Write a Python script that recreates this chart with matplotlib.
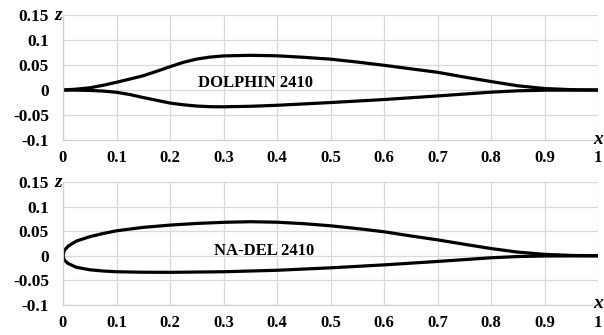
import matplotlib
matplotlib.use("Agg")
import matplotlib.pyplot as plt

# DOLPHIN 2410
dol_up_x = [0, 0.025, 0.05, 0.075, 0.1, 0.125, 0.15, 0.175, 0.2, 0.225, 0.25, 0.275, 0.3, 0.35, 0.4, 0.45, 0.5,
            0.55, 0.6, 0.65, 0.7, 0.75, 0.8, 0.85, 0.9, 0.95, 1.0]
dol_up_z = [0, 0.0018, 0.0045, 0.0095, 0.0156, 0.022, 0.0286, 0.0375, 0.0467, 0.0555, 0.062, 0.066, 0.0683, 0.0695,
            0.0685, 0.0655, 0.0618, 0.056, 0.0495, 0.0425, 0.0355, 0.026, 0.017, 0.0085, 0.003, 0.0008, 0]
dol_lo_x = [0, 0.025, 0.05, 0.075, 0.1, 0.125, 0.15, 0.175, 0.2, 0.225, 0.25, 0.275, 0.3, 0.35, 0.4, 0.5,
            0.6, 0.7, 0.75, 0.8, 0.85, 0.9, 1.0]
dol_lo_z = [0, -0.0002, -0.0008, -0.002, -0.0045, -0.009, -0.015, -0.0205, -0.026, -0.0295, -0.032, -0.0333, -0.0335,
            -0.0325, -0.0305, -0.025, -0.019, -0.0118, -0.008, -0.0042, -0.0015, -0.0003, 0]

# NA-DEL 2410
nad_up_x = [0, 0.0025, 0.01, 0.025, 0.05, 0.075, 0.1, 0.15, 0.2, 0.25, 0.3, 0.35, 0.4, 0.45, 0.5,
            0.55, 0.6, 0.65, 0.7, 0.75, 0.8, 0.85, 0.9, 0.95, 1.0]
nad_up_z = [0, 0.011, 0.02, 0.03, 0.039, 0.0455, 0.051, 0.058, 0.0626, 0.066, 0.0683, 0.0695, 0.0685, 0.0655, 0.0612,
            0.0555, 0.049, 0.0405, 0.0325, 0.0235, 0.0148, 0.0075, 0.003, 0.0008, 0]
nad_lo_x = [0, 0.0025, 0.01, 0.025, 0.05, 0.075, 0.1, 0.15, 0.2, 0.3, 0.4, 0.5, 0.6, 0.7, 0.8, 0.85, 0.9, 1.0]
nad_lo_z = [0, -0.009, -0.016, -0.0234, -0.0285, -0.031, -0.0325, -0.0335, -0.0337, -0.0325, -0.0295, -0.0245,
            -0.0185, -0.0115, -0.004, -0.0015, -0.0004, 0]

x_ticks = [0, 0.1, 0.2, 0.3, 0.4, 0.5, 0.6, 0.7, 0.8, 0.9, 1]
x_labels = ["0", "0.1", "0.2", "0.3", "0.4", "0.5", "0.6", "0.7", "0.8", "0.9", "1"]
z_ticks = [-0.1, -0.05, 0, 0.05, 0.1, 0.15]
z_labels = ["-0.1", "-0.05", "0", "0.05", "0.1", "0.15"]

plt.rcParams['font.family'] = ['Liberation Serif', 'DejaVu Serif']

fig = plt.figure(figsize=(6.04, 3.35), dpi=100)
ax1 = fig.add_axes([0.1043, 0.582, 0.886, 0.373])
ax2 = fig.add_axes([0.1043, 0.090, 0.886, 0.366])

panels = [
    (ax1, dol_up_x, dol_up_z, dol_lo_x, dol_lo_z, "DOLPHIN 2410", 0.36, 0.014),
    (ax2, nad_up_x, nad_up_z, nad_lo_x, nad_lo_z, "NA-DEL 2410", 0.375, 0.01),
]
for ax, ux, uz, lx, lz, label, tx, tz in panels:
    ax.plot(ux, uz, color="black", lw=2.3, solid_capstyle="round", solid_joinstyle="round")
    ax.plot(lx, lz, color="black", lw=2.3, solid_capstyle="round", solid_joinstyle="round")
    ax.set_xlim(0, 1)
    ax.set_ylim(-0.1, 0.15)
    ax.set_xticks(x_ticks)
    ax.set_xticklabels(x_labels, fontsize=12, fontweight="bold")
    ax.set_yticks(z_ticks)
    ax.set_yticklabels(z_labels, fontsize=12.5, fontweight="bold")
    ax.grid(True, color="#d9d9d9", lw=0.9)
    ax.set_axisbelow(True)
    for s in ["top", "right"]:
        ax.spines[s].set_visible(False)
    for s in ["left", "bottom"]:
        ax.spines[s].set_color("#d0d0d0")
        ax.spines[s].set_linewidth(0.9)
    ax.tick_params(axis="x", length=0, pad=7)
    ax.tick_params(axis="y", length=0, pad=10)
    ax.text(tx, tz, label, ha="center", va="center", fontsize=12, fontweight="bold")
    ax.text(-0.002, 0.15, "z", ha="right", va="center", fontsize=14, fontweight="bold", style="italic")
    ax.text(1.0, -0.098, "x", ha="center", va="center", fontsize=14, fontweight="bold", style="italic",
            clip_on=False)

fig.savefig("out.png", dpi=100)
